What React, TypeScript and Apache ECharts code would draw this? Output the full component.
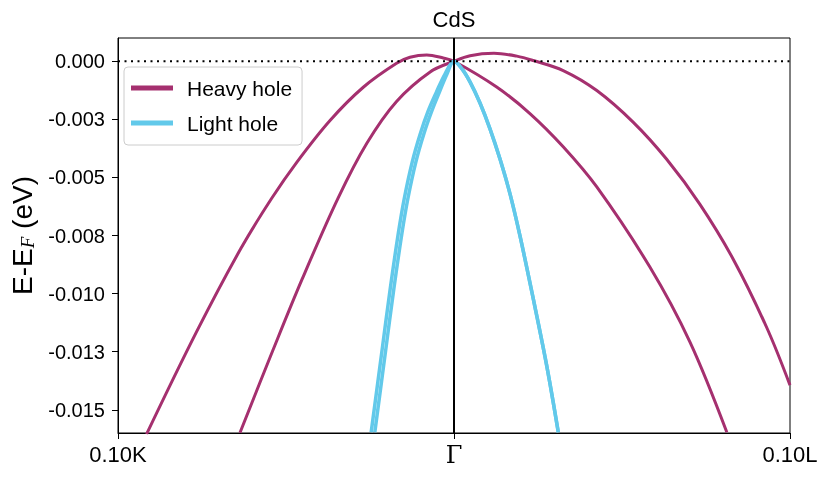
import React, { useEffect, useRef } from "react";
import * as echarts from "echarts";

// ---- data (k in units of the path, E-E_F in eV) ----
const kHeavyA = [-0.0915, -0.0766, -0.0634, -0.0543, -0.0467, -0.0369, -0.027, -0.0171, -0.0131, -0.0081, -0.0032, 0, 0.0127, 0.0226, 0.0325, 0.0425, 0.0583, 0.0702, 0.0812];
const eHeavyA = [-0.01605, -0.01164, -0.00805, -0.00591, -0.00433, -0.00255, -0.00112, -0.00009, 0.00017, 0.00027, 0.00014, 0, -0.00111, -0.00225, -0.00368, -0.00541, -0.00886, -0.01208, -0.01597];

const kHeavyB = [-0.0637, -0.0539, -0.0452, -0.0345, -0.0259, -0.0171, -0.0071, 0, 0.0048, 0.0119, 0.0187, 0.0236, 0.0325, 0.0425, 0.0533, 0.0633, 0.0732, 0.0831, 0.0931, 0.1];
const eHeavyB = [-0.01599, -0.01244, -0.00938, -0.00589, -0.00352, -0.00173, -0.00046, 0, 0.00024, 0.00034, 0.00022, 0.00003, -0.0004, -0.00126, -0.00262, -0.00422, -0.00616, -0.00852, -0.01147, -0.01394];

const kLight1Left = [-0.02465, -0.02137, -0.01899, -0.01661, -0.01483, -0.01244, -0.01006, -0.00768, -0.00521, -0.00268, 0];
const kLight2Left = [-0.02357, -0.02029, -0.01791, -0.01553, -0.01375, -0.01136, -0.00898, -0.0066, -0.00431, -0.00208, 0];
const eLightLeft = [-0.01597, -0.01239, -0.0098, -0.00744, -0.00593, -0.00434, -0.00313, -0.00214, -0.00132, -0.00055, 0];
const kLightRight = [0.00238, 0.00476, 0.00774, 0.01071, 0.01369, 0.01667, 0.01964, 0.0236, 0.02759, 0.03104];
const eLightRight = [-0.00033, -0.00089, -0.0018, -0.00291, -0.00421, -0.00571, -0.00752, -0.01023, -0.0131, -0.01597];

const yTickValues = [0, -0.0025, -0.005, -0.0075, -0.01, -0.0125, -0.015];
const yTickLabels = ["0.000", "-0.003", "-0.005", "-0.008", "-0.010", "-0.013", "-0.015"];
const xTickValues = [-0.1, 0, 0.1];
const xTickLabels = ["0.10K", "Γ", "0.10L"];

const HEAVY = "#a5306f";
const LIGHT = "#62c9ea";
const FONT = "Liberation Sans";

const zip = (a: number[], b: number[]) => a.map((v, i) => [v, b[i]]);

export default function App() {
  const ref = useRef<HTMLDivElement>(null);
  useEffect(() => {
    if (!ref.current) return;
    const chart = echarts.init(ref.current, null, { renderer: "svg" });
    const light1 = zip(kLight1Left, eLightLeft).concat(zip(kLightRight, eLightRight));
    const light2 = zip(kLight2Left, eLightLeft).concat(zip(kLightRight, eLightRight));
    const lineBase = { type: "line", showSymbol: false, smooth: 0.35, silent: true };
    chart.setOption({
      animation: false,
      grid: {
        left: 118, right: 40, top: 38, bottom: 46,
        show: true, borderColor: "#000", borderWidth: 1,
        containLabel: false, outerBoundsMode: "none",
      },
      graphic: [
        {
          type: "text", x: 454, y: 19,
          style: { text: "CdS", align: "center", verticalAlign: "middle", fontSize: 22, fontFamily: FONT, fill: "#000" },
        },
      ],
      legend: {
        data: ["Heavy hole", "Light hole"],
        left: 124, top: 67, orient: "vertical",
        icon: "rect", itemWidth: 42, itemHeight: 5, itemGap: 11,
        padding: [9, 10, 10, 7],
        borderColor: "#cccccc", borderWidth: 1, borderRadius: 4,
        backgroundColor: "rgba(255,255,255,0.85)",
        textStyle: { fontSize: 21, fontFamily: FONT, color: "#000", lineHeight: 24, padding: [0, 0, 0, 9] },
      },
      xAxis: {
        type: "value", min: -0.1, max: 0.1, interval: 0.1,
        axisLine: { onZero: false, lineStyle: { color: "#000", width: 1 } },
        axisTick: { show: true, length: 6, lineStyle: { color: "#000" } },
        splitLine: { show: false },
        axisLabel: {
          showMinLabel: true, showMaxLabel: true,
          color: "#000", fontSize: 22, fontFamily: FONT, margin: 10,
          formatter: (v: number) => {
            let idx = 0;
            xTickValues.forEach((t, i) => { if (Math.abs(t - v) < Math.abs(xTickValues[idx] - v)) idx = i; });
            return idx === 1 ? "{g|" + xTickLabels[idx] + "}" : xTickLabels[idx];
          },
          rich: { g: { fontFamily: "DejaVu Serif", fontSize: 24, color: "#000" } },
        },
      },
      yAxis: {
        type: "value", min: -0.016, max: 0.001,
        axisLine: { show: true, onZero: false, lineStyle: { color: "#000", width: 1 } },
        axisTick: { show: true, length: 6, customValues: yTickValues, lineStyle: { color: "#000" } },
        splitLine: { show: false },
        axisLabel: {
          customValues: yTickValues,
          color: "#000", fontSize: 20, fontFamily: FONT, margin: 13,
          formatter: (v: number) => {
            let idx = 0;
            yTickValues.forEach((t, i) => { if (Math.abs(t - v) < Math.abs(yTickValues[idx] - v)) idx = i; });
            return yTickLabels[idx];
          },
        },
        name: "{a|E-E}{s|F}{a| (eV)}",
        nameLocation: "middle",
        nameGap: 75,
        nameTextStyle: {
          color: "#000",
          rich: {
            a: { fontSize: 28, fontFamily: FONT, color: "#000" },
            s: { fontSize: 19, fontFamily: "Liberation Serif", fontStyle: "italic", color: "#000", padding: [10, 0, 0, 0] },
          },
        },
      },
      series: [
        { ...lineBase, name: "Heavy hole", data: zip(kHeavyA, eHeavyA), color: HEAVY, lineStyle: { color: HEAVY, width: 3 }, z: 2 },
        { ...lineBase, name: "Heavy hole", data: zip(kHeavyB, eHeavyB), color: HEAVY, lineStyle: { color: HEAVY, width: 3 }, z: 2 },
        { ...lineBase, name: "Light hole", data: light1, color: LIGHT, lineStyle: { color: LIGHT, width: 3.5 }, z: 3 },
        { ...lineBase, name: "Light hole", data: light2, color: LIGHT, lineStyle: { color: LIGHT, width: 3.5 }, z: 3 },
        {
          type: "line", name: "fermi", showSymbol: false, silent: true, z: 4,
          data: [[-0.1, 0], [0.1, 0]],
          lineStyle: { color: "#000", width: 2, type: [2, 4.5], cap: "butt" },
        },
        {
          type: "line", name: "gamma", showSymbol: false, silent: true, z: 5,
          data: [[0, -0.016], [0, 0.001]],
          lineStyle: { color: "#000", width: 2 },
        },
      ],
    });
    return () => chart.dispose();
  }, []);
  return <div ref={ref} style={{ position: "fixed", left: 0, top: 0, width: 830, height: 479 }} />;
}
